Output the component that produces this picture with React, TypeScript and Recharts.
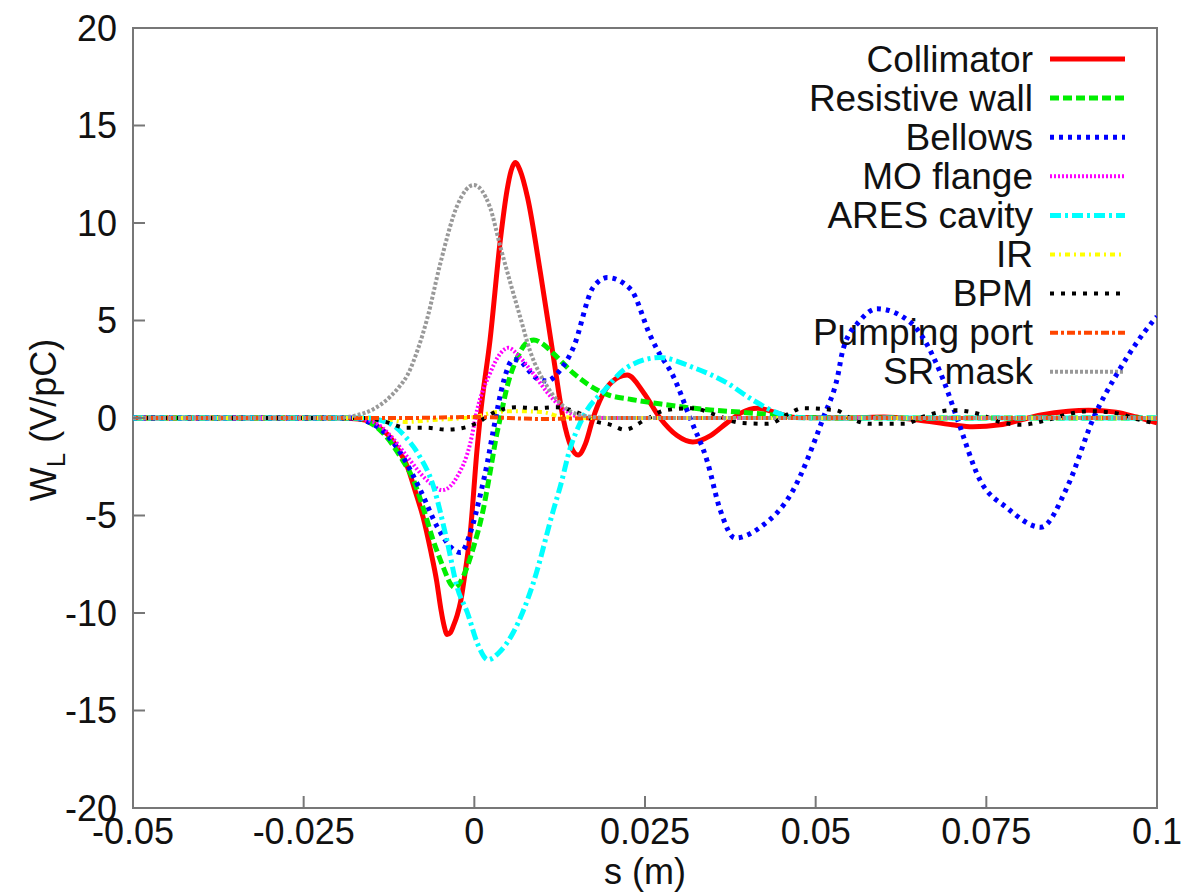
import React from 'react';
import { LineChart, Line, XAxis, YAxis, ReferenceArea, Customized } from 'recharts';

// s (m) ticks and W_L (V/pC) ticks
const sTicks = [-0.05, -0.025, 0, 0.025, 0.05, 0.075, 0.1];
const wTicks = [-20, -15, -10, -5, 0, 5, 10, 15, 20];

// each series: [s, W_L] pairs
const collimator = [
  [-0.05, 0], [-0.02, 0], [-0.017, -0.05], [-0.0152, -0.2], [-0.0135, -0.6], [-0.0123, -1.0],
  [-0.011, -1.7], [-0.0098, -2.5], [-0.0087, -3.7], [-0.0075, -5.1], [-0.0064, -6.8],
  [-0.0055, -8.4], [-0.0049, -9.8], [-0.0044, -10.7], [-0.004, -11.1], [-0.0035, -11.0],
  [-0.003, -10.6], [-0.0025, -10.1], [-0.002, -9.4], [-0.0013, -7.8], [-0.0006, -5.9],
  [0.0004, -1.6], [0.0009, 0.2], [0.0023, 4.0], [0.0038, 9.1], [0.0048, 11.7], [0.0054, 12.7],
  [0.006, 13.1], [0.0067, 12.7], [0.0078, 11.3], [0.0097, 7.4], [0.0116, 3.1], [0.013, 0.0],
  [0.0142, -1.5], [0.0152, -1.9], [0.0163, -1.3], [0.0174, 0.0], [0.02, 1.8], [0.0224, 2.2],
  [0.0248, 1.3], [0.0272, 0.0], [0.0297, -0.9], [0.032, -1.23], [0.0346, -0.9], [0.037, -0.25],
  [0.039, 0.25], [0.0415, 0.5], [0.0444, 0.25], [0.047, 0.02], [0.055, 0.0], [0.06, 0.05],
  [0.065, -0.1], [0.07, -0.35], [0.073, -0.45], [0.077, -0.35], [0.08, -0.1], [0.083, 0.15],
  [0.087, 0.35], [0.09, 0.4], [0.094, 0.3], [0.097, 0.05], [0.1, -0.25],
];

const resistiveWall = [
  [-0.05, 0], [-0.018, 0], [-0.0155, -0.2], [-0.0133, -0.8], [-0.0108, -2.0], [-0.0089, -3.2],
  [-0.0075, -4.6], [-0.006, -6.3], [-0.0045, -7.7], [-0.0035, -8.5], [-0.0028, -8.7],
  [-0.0016, -8.1], [-0.0001, -6.6], [0.0013, -4.7], [0.0023, -2.8], [0.0033, -0.8],
  [0.0038, 0.0], [0.0048, 1.6], [0.0063, 3.1], [0.0075, 3.8], [0.0087, 4.0], [0.01, 3.8],
  [0.0116, 3.3], [0.0145, 2.3], [0.018, 1.44], [0.0195, 1.2], [0.023, 0.95], [0.0277, 0.7],
  [0.0346, 0.41], [0.039, 0.3], [0.044, 0.15], [0.048, 0.02], [0.055, 0], [0.1, 0],
];

const bellows = [
  [-0.05, 0], [-0.018, 0], [-0.0155, -0.2], [-0.013, -0.8], [-0.0108, -1.8], [-0.0079, -3.7],
  [-0.0054, -5.6], [-0.0035, -6.6], [-0.002, -6.9], [-0.0006, -5.9], [0.0009, -3.9],
  [0.0019, -2.3], [0.0028, -0.6], [0.0043, 1.9], [0.0057, 3.0], [0.0068, 2.9], [0.0078, 2.5],
  [0.0093, 2.0], [0.0107, 1.9], [0.0122, 2.3], [0.0145, 3.6], [0.0174, 6.7], [0.0195, 7.2],
  [0.0229, 6.6], [0.0258, 4.2], [0.0268, 3.5], [0.0292, 2.1], [0.0316, 0.0], [0.0341, -2.2],
  [0.036, -4.7], [0.0382, -6.15], [0.0419, -5.6], [0.0467, -3.7], [0.0511, 0.0], [0.0532, 2.1],
  [0.054, 3.5], [0.0565, 5.0], [0.059, 5.6], [0.0639, 4.9], [0.0687, 1.95], [0.0707, 0.0],
  [0.0741, -3.2], [0.078, -4.6], [0.083, -5.6], [0.0869, -3.5], [0.0907, 0.0], [0.0942, 2.3],
  [0.0995, 5.0], [0.1, 5.2],
];

const moFlange = [
  [-0.05, 0], [-0.018, 0], [-0.0148, -0.2], [-0.0123, -0.9], [-0.0098, -2.0], [-0.0069, -3.2],
  [-0.0047, -3.7], [-0.0025, -3.0], [-0.0006, -1.3], [0.0004, 0.4], [0.0023, 2.3],
  [0.0038, 3.3], [0.005, 3.6], [0.0067, 3.1], [0.0086, 2.3], [0.0107, 1.3], [0.0126, 0.6],
  [0.015, 0.1], [0.018, 0], [0.1, 0],
];

const aresCavity = [
  [-0.05, 0], [-0.016, 0], [-0.0123, -0.3], [-0.01, -1.0], [-0.0083, -1.8], [-0.006, -3.5],
  [-0.004, -6.3], [-0.0025, -8.7], [-0.001, -10.0], [0.0005, -11.6], [0.002, -12.4],
  [0.0037, -12.0], [0.0057, -11.0], [0.0086, -8.5], [0.0116, -4.7], [0.0126, -3.5],
  [0.014, -1.6], [0.0155, -0.26], [0.0165, 0.4], [0.019, 1.4], [0.0224, 2.6], [0.0272, 3.1],
  [0.032, 2.6], [0.037, 1.8], [0.0409, 0.9], [0.0444, 0.26], [0.047, 0.03], [0.05, 0], [0.1, 0],
];

const ir = [
  [-0.05, 0], [-0.014, 0], [-0.01, -0.2], [-0.006, -0.1], [0.0, 0.05], [0.003, 0.3],
  [0.006, 0.35], [0.01, 0.3], [0.013, 0.05], [0.018, 0], [0.1, 0],
];

const bpm = [
  [-0.05, 0], [-0.016, 0], [-0.013, -0.2], [-0.01, -0.5], [-0.007, -0.5], [-0.004, -0.6],
  [-0.001, -0.45], [0.0004, -0.25], [0.003, 0.3], [0.006, 0.55], [0.009, 0.5], [0.012, 0.55],
  [0.015, 0.3], [0.018, -0.2], [0.02, -0.35], [0.022, -0.6], [0.025, -0.1], [0.028, 0.4],
  [0.032, 0.5], [0.035, 0.2], [0.039, -0.25], [0.043, -0.3], [0.046, 0.2], [0.048, 0.5],
  [0.053, 0.4], [0.055, 0.0], [0.058, -0.3], [0.063, -0.3], [0.066, 0.1], [0.07, 0.4],
  [0.074, 0.2], [0.077, -0.2], [0.08, -0.35], [0.084, -0.1], [0.087, 0.2], [0.09, 0.35],
  [0.094, 0.25], [0.097, -0.05], [0.1, -0.3],
];

const pumpingPort = [
  [-0.05, 0], [-0.01, 0], [0.0, 0.05], [0.01, -0.05], [0.02, 0.0], [0.05, 0], [0.1, 0],
];

const srMask = [
  [-0.05, 0], [-0.02, 0], [-0.0175, 0.12], [-0.0148, 0.45], [-0.0123, 1.1], [-0.011, 1.6],
  [-0.0098, 2.2], [-0.0083, 3.5], [-0.0069, 5.1], [-0.005, 7.9], [-0.0025, 10.9],
  [-0.0001, 11.95], [0.0023, 10.8], [0.0038, 8.8], [0.0053, 6.9], [0.0067, 5.2], [0.0082, 3.4],
  [0.0107, 1.6], [0.0136, 0.45], [0.016, 0.12], [0.02, 0], [0.1, 0],
];

const toPoints = (pairs: number[][]) => pairs.map(([s, w]) => ({ s, w }));

const series = [
  { name: 'Collimator', data: collimator, color: '#ff0000', dash: undefined, width: 5 },
  { name: 'Resistive wall', data: resistiveWall, color: '#00ee00', dash: '9 4', width: 5 },
  { name: 'Bellows', data: bellows, color: '#0000ff', dash: '4 5', width: 5 },
  { name: 'MO flange', data: moFlange, color: '#ff00ff', dash: '2 2', width: 4 },
  { name: 'ARES cavity', data: aresCavity, color: '#00ffff', dash: '11 4 3 4', width: 5 },
  { name: 'IR', data: ir, color: '#ffff00', dash: '5 4 2 4', width: 4 },
  { name: 'BPM', data: bpm, color: '#000000', dash: '4 7', width: 4 },
  { name: 'Pumping port', data: pumpingPort, color: '#ff4500', dash: '8 3 3 3', width: 4 },
  { name: 'SR mask', data: srMask, color: '#999999', dash: '3 2', width: 4 },
];

const FONT = '"Liberation Sans", Arial, Helvetica, sans-serif';

function LegendAndLabels() {
  return (
    <g fontFamily={FONT}>
      {series.map((d, i) => {
        const y = 59 + i * 39.1;
        return (
          <g key={d.name}>
            <text x={1033} y={y} textAnchor="end" dominantBaseline="central" fontSize={37} fill="#111">
              {d.name}
            </text>
            <line x1={1050} x2={1125} y1={y} y2={y} stroke={d.color} strokeWidth={d.width} strokeDasharray={d.dash} />
          </g>
        );
      })}
      <text x={645} y={884} textAnchor="middle" fontSize={36} fill="#111">
        s (m)
      </text>
      <text transform="translate(56,420) rotate(-90)" textAnchor="middle" fontSize={36} fill="#111">
        W<tspan fontSize={26} dy={9}>L</tspan>
        <tspan dy={-9}> (V/pC)</tspan>
      </text>
    </g>
  );
}

export default function App() {
  return (
    <div style={{ position: 'absolute', left: 0, top: 0, width: 1187, height: 893, background: '#fff' }}>
      <LineChart width={1187} height={893} margin={{ top: 28, right: 30, bottom: 0, left: 0 }}>
        <XAxis
          xAxisId="b"
          dataKey="s"
          type="number"
          domain={[-0.05, 0.1]}
          ticks={sTicks}
          allowDataOverflow
          height={85}
          axisLine={false}
          tickSize={-12}
          tickMargin={22}
          tickLine={{ stroke: '#777', strokeWidth: 2 }}
          tick={{ fill: '#111', fontSize: 36, fontFamily: FONT }}
          tickFormatter={(v) => String(v)}
        />
        <XAxis
          xAxisId="t"
          orientation="top"
          dataKey="s"
          type="number"
          domain={[-0.05, 0.1]}
          ticks={sTicks}
          allowDataOverflow
          height={0}
          axisLine={false}
          tickSize={-12}
          tickLine={{ stroke: '#777', strokeWidth: 2 }}
          tick={false}
        />
        <YAxis
          yAxisId="l"
          type="number"
          domain={[-20, 20]}
          ticks={wTicks}
          allowDataOverflow
          width={133}
          axisLine={false}
          tickSize={-12}
          tickMargin={28}
          tickLine={{ stroke: '#777', strokeWidth: 2 }}
          tick={{ fill: '#111', fontSize: 36, fontFamily: FONT }}
        />
        <YAxis
          yAxisId="r"
          orientation="right"
          type="number"
          domain={[-20, 20]}
          ticks={wTicks}
          allowDataOverflow
          width={0}
          axisLine={false}
          tickSize={-12}
          tickLine={{ stroke: '#777', strokeWidth: 2 }}
          tick={false}
        />
        <ReferenceArea
          xAxisId="b"
          yAxisId="l"
          x1={-0.05}
          x2={0.1}
          y1={-20}
          y2={20}
          fill="none"
          fillOpacity={0}
          stroke="#777"
          strokeWidth={2}
          ifOverflow="visible"
        />
        {series.map((d) => (
          <Line
            key={d.name}
            xAxisId="b"
            yAxisId="l"
            data={toPoints(d.data)}
            dataKey="w"
            name={d.name}
            type="monotone"
            stroke={d.color}
            strokeWidth={d.width}
            strokeDasharray={d.dash}
            dot={false}
            activeDot={false}
            isAnimationActive={false}
          />
        ))}
        <Line
          xAxisId="t"
          yAxisId="r"
          data={toPoints(pumpingPort)}
          dataKey="w"
          stroke="none"
          dot={false}
          activeDot={false}
          legendType="none"
          isAnimationActive={false}
        />
        <Customized component={LegendAndLabels} />
      </LineChart>
    </div>
  );
}
